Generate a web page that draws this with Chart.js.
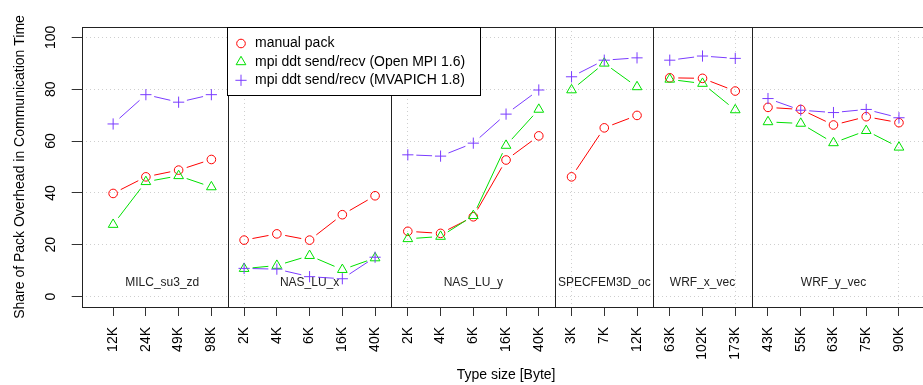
<!DOCTYPE html>
<html lang="en">
<head>
    <meta charset="UTF-8">
    <title>Pack overhead</title>
    <script src="https://cdn.jsdelivr.net/npm/chart.js"></script>
    <style>
        html, body { margin: 0; padding: 0; background: #fff; overflow: hidden; }
        #wrap { width: 923px; height: 385px; overflow: hidden; }
    </style>
</head>
<body>
    <div id="wrap">
        <canvas id="packChart" width="940" height="385"></canvas>
    </div>
    <script>
        // tick labels along x, one per measurement
        const tickLabels = ['12K', '24K', '49K', '98K',
            '2K', '4K', '6K', '16K', '40K',
            '2K', '4K', '6K', '16K', '40K',
            '3K', '7K', '12K',
            '63K', '102K', '173K',
            '43K', '55K', '63K', '75K', '90K'];
        const groupNames = ['MILC_su3_zd', 'NAS_LU_x', 'NAS_LU_y', 'SPECFEM3D_oc', 'WRF_x_vec', 'WRF_y_vec'];
        const groupSizes = [4, 5, 5, 3, 3, 5];

        const manualPack = [39.8, 46.2, 48.8, 52.9,
            21.8, 24.2, 21.8, 31.6, 38.9,
            25.2, 24.4, 30.8, 52.7, 62.0,
            46.2, 65.1, 69.9,
            84.4, 84.2, 79.3,
            73.0, 72.2, 66.2, 69.4, 67.1];
        const openMpi = [27.8, 44.3, 46.6, 42.3,
            10.8, 12.0, 15.8, 10.4, 14.9,
            22.3, 23.2, 31.2, 58.3, 72.2,
            79.7, 90.0, 80.9,
            83.8, 82.2, 72.0,
            67.4, 66.8, 59.3, 64.0, 57.6];
        const mvapich = [66.6, 77.9, 75.0, 77.9,
            10.9, 10.6, 7.7, 6.9, 15.2,
            54.7, 54.2, 59.2, 70.4, 79.7,
            84.8, 91.2, 92.1,
            91.2, 92.8, 91.9,
            76.4, 71.9, 71.0, 72.2, 69.0];

        const yTicks = [0, 20, 40, 60, 80, 100];

        // group boundaries (in x units) between the blocks
        const boundaries = [];
        let acc = 0;
        groupSizes.forEach((n, g) => {
            acc += n;
            if (g < groupSizes.length - 1) boundaries.push(acc + 0.5);
        });

        // points with a null between groups so the lines break
        function buildPoints(values) {
            const pts = [];
            let idx = 0;
            groupSizes.forEach((n, g) => {
                for (let k = 0; k < n; k++) {
                    pts.push({ x: idx + 1, y: values[idx] });
                    idx++;
                }
                if (g < groupSizes.length - 1) pts.push({ x: idx + 0.5, y: null });
            });
            return pts;
        }

        const seriesInfo = [
            { label: 'manual pack', color: '#ff0000', style: 'circle', radius: 4.3, order: 3 },
            { label: 'mpi ddt send/recv (Open MPI 1.6)', color: '#00e000', style: 'triangle', radius: 5.6, order: 2 },
            { label: 'mpi ddt send/recv (MVAPICH 1.8)', color: '#7a3cff', style: 'cross', radius: 5.6, order: 1 }
        ];
        const seriesValues = [manualPack, openMpi, mvapich];

        Chart.defaults.font.family = '"Liberation Sans", Arial, sans-serif';
        Chart.defaults.font.size = 14;
        Chart.defaults.color = '#000';

        // R type="b" lines: joined point elements, with a gap round each point
        const GAP = 8.5;
        const gappedLines = {
            id: 'gappedLines',
            beforeDatasetDraw(chart, args) {
                const pts = args.meta.data;
                const color = chart.data.datasets[args.index].borderColor;
                const ctx = chart.ctx;
                ctx.save();
                ctx.strokeStyle = color;
                ctx.lineWidth = 1;
                for (let i = 1; i < pts.length; i++) {
                    const a = pts[i - 1], b = pts[i];
                    if (a.skip || b.skip) continue;
                    const dx = b.x - a.x, dy = b.y - a.y;
                    const len = Math.hypot(dx, dy);
                    if (len <= 2 * GAP) continue;
                    const ux = dx / len, uy = dy / len;
                    ctx.beginPath();
                    ctx.moveTo(a.x + ux * GAP, a.y + uy * GAP);
                    ctx.lineTo(b.x - ux * GAP, b.y - uy * GAP);
                    ctx.stroke();
                }
                ctx.restore();
            }
        };

        // box, separators, group names, rotated y labels and the legend
        const decorations = {
            id: 'decorations',
            beforeDatasetsDraw(chart) {
                const ctx = chart.ctx;
                const area = chart.chartArea;
                const xs = chart.scales.x;
                ctx.save();
                ctx.strokeStyle = '#222';
                ctx.lineWidth = 1;
                boundaries.forEach(b => {
                    const px = Math.round(xs.getPixelForValue(b)) + 0.5;
                    ctx.beginPath();
                    ctx.moveTo(px, area.top);
                    ctx.lineTo(px, area.bottom);
                    ctx.stroke();
                });
                // group names
                ctx.fillStyle = '#222';
                ctx.font = '12px "Liberation Sans", Arial, sans-serif';
                ctx.textAlign = 'center';
                ctx.textBaseline = 'middle';
                let start = 1;
                groupSizes.forEach((n, g) => {
                    const mid = start + (n - 1) / 2;
                    ctx.fillText(groupNames[g], xs.getPixelForValue(mid), 283);
                    start += n;
                });
                ctx.restore();
            },
            afterDraw(chart) {
                const ctx = chart.ctx;
                const area = chart.chartArea;
                const ys = chart.scales.y;
                ctx.save();
                // plot box
                ctx.strokeStyle = '#222';
                ctx.lineWidth = 1;
                ctx.strokeRect(Math.round(area.left) + 0.5, Math.round(area.top) + 0.5,
                    Math.round(area.right - area.left), Math.round(area.bottom - area.top));
                // y tick labels, rotated like R
                ctx.fillStyle = '#000';
                ctx.font = '14px "Liberation Sans", Arial, sans-serif';
                ctx.textAlign = 'center';
                ctx.textBaseline = 'middle';
                yTicks.forEach(v => {
                    ctx.save();
                    ctx.translate(51, ys.getPixelForValue(v));
                    ctx.rotate(-Math.PI / 2);
                    ctx.fillText(String(v), 0, 0);
                    ctx.restore();
                });
                // legend
                const lx = 227.5, ly = Math.round(area.top) + 0.5, lw = 253, lh = 68;
                ctx.fillStyle = '#fff';
                ctx.fillRect(lx, ly, lw, lh);
                ctx.strokeStyle = '#000';
                ctx.strokeRect(lx, ly, lw, lh);
                ctx.textAlign = 'left';
                seriesInfo.forEach((s, i) => {
                    const rowY = 43.5 + i * 18.4;
                    ctx.strokeStyle = s.color;
                    ctx.fillStyle = 'rgba(0,0,0,0)';
                    ctx.lineWidth = 1;
                    Chart.helpers.drawPoint(ctx, {
                        pointStyle: s.style, radius: s.radius, rotation: 0, borderWidth: 1
                    }, 241, rowY);
                    ctx.fillStyle = '#000';
                    ctx.fillText(s.label, 255, rowY);
                });
                ctx.restore();
            }
        };

        const ctx = document.getElementById('packChart').getContext('2d');
        new Chart(ctx, {
            type: 'line',
            data: {
                datasets: seriesInfo.map((s, i) => ({
                    label: s.label,
                    data: buildPoints(seriesValues[i]),
                    borderColor: s.color,
                    backgroundColor: 'rgba(0,0,0,0)',
                    borderWidth: 1,
                    showLine: false,
                    pointStyle: s.style,
                    pointRadius: s.radius,
                    pointBorderWidth: 1,
                    pointBorderColor: s.color,
                    pointBackgroundColor: 'rgba(0,0,0,0)',
                    spanGaps: false,
                    order: s.order
                }))
            },
            options: {
                responsive: false,
                animation: false,
                events: [],
                layout: { padding: { top: 27, right: 9.6, bottom: 0, left: 0 } },
                plugins: {
                    legend: { display: false },
                    tooltip: { enabled: false }
                },
                scales: {
                    x: {
                        type: 'linear',
                        min: 0.04,
                        max: 25.96,
                        afterBuildTicks: scale => {
                            scale.ticks = tickLabels.map((_, i) => ({ value: i + 1 }));
                        },
                        afterFit: scale => { scale.height = 78; },
                        ticks: {
                            autoSkip: false,
                            minRotation: 90,
                            maxRotation: 90,
                            padding: 11,
                            font: { size: 14 },
                            callback: v => tickLabels[v - 1]
                        },
                        grid: {
                            color: c => (c.tick && c.tick.value % 5 === 0) ? '#cfcfcf' : 'rgba(0,0,0,0)',
                            tickColor: '#333',
                            tickLength: 9,
                            tickBorderDash: [],
                            lineWidth: 1
                        },
                        border: { display: false, dash: [1, 3] },
                        title: {
                            display: true,
                            text: 'Type size [Byte]',
                            font: { size: 14 },
                            padding: { top: 0, bottom: 1.6 }
                        }
                    },
                    y: {
                        type: 'linear',
                        min: -4,
                        max: 104,
                        afterBuildTicks: scale => {
                            scale.ticks = yTicks.map(v => ({ value: v }));
                        },
                        afterFit: scale => { scale.width = 81.7; },
                        ticks: { display: false },
                        grid: {
                            color: '#cfcfcf',
                            tickColor: '#333',
                            tickLength: 10,
                            tickBorderDash: [],
                            lineWidth: 1
                        },
                        border: { display: false, dash: [1, 3] },
                        title: {
                            display: true,
                            text: 'Share of Pack Overhead in Communication Time',
                            font: { size: 14 },
                            padding: { top: 11.6, bottom: 0 }
                        }
                    }
                }
            },
            plugins: [gappedLines, decorations]
        });
    </script>
</body>
</html>
